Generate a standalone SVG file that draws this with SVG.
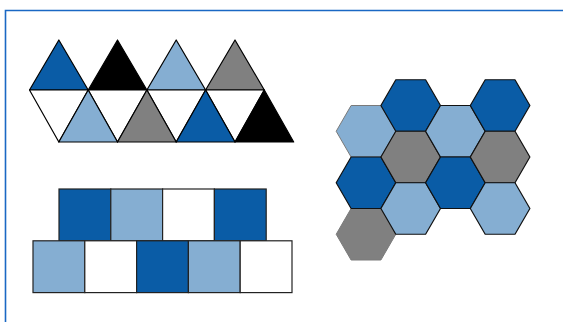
<svg xmlns="http://www.w3.org/2000/svg" width="563" height="322" viewBox="0 0 563 322">
<style>
.db{fill:#0a5ca6}.lb{fill:#85aed2}.gr{fill:#808080}.bk{fill:#000}.wh{fill:#fff}
.t{stroke:#000;stroke-width:1.2;stroke-linejoin:round}
.s{stroke:#222;stroke-width:1.2}
.h{stroke:#111;stroke-width:1.2;stroke-linejoin:round}
.hg{stroke:#7a7a7a;stroke-width:1}
</style>
<rect width="563" height="322" fill="#fff"/>
<path d="M5.5 322 V10.5 H563" fill="none" stroke="#1a68c4" stroke-width="1.6"/>
<g id="triangles">
<polygon class="db t" points="29.5,90 88.2,90 58.85,40"/>
<polygon class="bk t" points="88.2,90 146.9,90 117.5,40"/>
<polygon class="lb t" points="146.9,90 205.6,90 176.2,40"/>
<polygon class="gr t" points="205.6,90 264.3,90 235,40"/>
<polygon class="wh t" points="29.5,90 88.2,90 58.85,142"/>
<polygon class="wh t" points="88.2,90 146.9,90 117.5,142"/>
<polygon class="wh t" points="146.9,90 205.6,90 176.2,142"/>
<polygon class="wh t" points="205.6,90 264.3,90 235,142"/>
<polygon class="lb t" points="58.85,142 117.5,142 88.2,90"/>
<polygon class="gr t" points="117.5,142 176.2,142 146.9,90"/>
<polygon class="db t" points="176.2,142 235,142 205.6,90"/>
<polygon class="bk t" points="235,142 293.7,142 264.3,90"/>
</g>
<g id="squares">
<rect class="db s" x="59" y="189" width="51.8" height="51.8"/>
<rect class="lb s" x="110.8" y="189" width="51.8" height="51.8"/>
<rect class="wh s" x="162.6" y="189" width="51.8" height="51.8"/>
<rect class="db s" x="214.4" y="189" width="51.8" height="51.8"/>
<rect class="lb s" x="33" y="240.8" width="51.8" height="51.8"/>
<rect class="wh s" x="84.8" y="240.8" width="51.8" height="51.8"/>
<rect class="db s" x="136.6" y="240.8" width="51.8" height="51.8"/>
<rect class="lb s" x="188.4" y="240.8" width="51.8" height="51.8"/>
<rect class="wh s" x="240.2" y="240.8" width="51.8" height="51.8"/>
</g>
<defs>
<polygon id="hex" points="-29.8,0 -14.9,-25.75 14.9,-25.75 29.8,0 14.9,25.75 -14.9,25.75"/>
</defs>
<g id="hexagons">
<use href="#hex" class="lb hg" x="366" y="131.25"/>
<use href="#hex" class="gr hg" x="366" y="234.25"/>
<use href="#hex" class="db h" x="366" y="182.75"/>
<use href="#hex" class="db h" x="410.7" y="105.5"/>
<use href="#hex" class="gr h" x="410.7" y="157"/>
<use href="#hex" class="lb h" x="410.7" y="208.5"/>
<use href="#hex" class="lb h" x="455.4" y="131.25"/>
<use href="#hex" class="db h" x="455.4" y="182.75"/>
<use href="#hex" class="db h" x="500.1" y="105.5"/>
<use href="#hex" class="gr h" x="500.1" y="157"/>
<use href="#hex" class="lb h" x="500.1" y="208.5"/>
</g>
</svg>
